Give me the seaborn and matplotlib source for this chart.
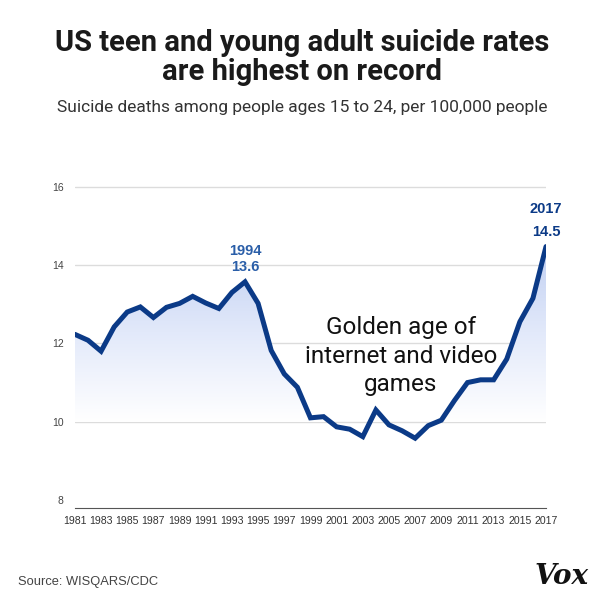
import numpy as np
import pandas as pd
import matplotlib
matplotlib.use("Agg")
import matplotlib.pyplot as plt
import seaborn as sns
from matplotlib.colors import LinearSegmentedColormap

# Data
years = list(range(1981, 2018))
rates = [12.23, 12.08, 11.80, 12.42, 12.80, 12.93, 12.66, 12.92, 13.02, 13.20,
         13.03, 12.89, 13.30, 13.57, 13.02, 11.82, 11.22, 10.88, 10.10, 10.13,
         9.87, 9.81, 9.62, 10.30, 9.92, 9.77, 9.58, 9.90, 10.04, 10.54,
         11.00, 11.07, 11.07, 11.60, 12.55, 13.15, 14.47]
y_ticks = [8, 10, 12, 14, 16]
x_labels = [str(y) if y % 2 == 1 else "" for y in years]

df = pd.DataFrame({"year": years, "rate": rates})

sns.set_style("white")
plt.rcParams['font.family'] = ['Liberation Sans', 'DejaVu Sans']

navy = "#0b3a87"

fig = plt.figure(figsize=(6.04, 6.04), dpi=100)
ax = fig.add_axes([0.124, 0.159, 0.780, 0.545])

ax.set_xlim(1981, 2017)
ax.set_ylim(7.8, 16.2)

# gridlines
for t in y_ticks[1:]:
    ax.axhline(t, color="#dcdcdc", lw=1, zorder=0)

# gradient fill under the line
cmap = LinearSegmentedColormap.from_list("fade", ["#ffffff", "#e2e9fa", "#bfcef1"])
grad = np.linspace(0, 1, 256).reshape(-1, 1)
im = ax.imshow(grad, cmap=cmap, aspect="auto", origin="lower",
               extent=[1981, 2017, 10.0, 14.6], zorder=1)
poly = ax.fill_between(df["year"], df["rate"], 7.8, color="none")
clip = poly.get_paths()[0]
im.set_clip_path(clip, transform=ax.transData)

sns.lineplot(data=df, x="year", y="rate", ax=ax, color=navy, lw=3.6,
             zorder=3, solid_joinstyle="miter")

# axes styling
for s in ["top", "right", "left"]:
    ax.spines[s].set_visible(False)
ax.spines["bottom"].set_color("#555555")
ax.spines["bottom"].set_linewidth(0.8)
ax.set_xticks(years)
ax.set_xticklabels(x_labels, fontsize=7.6, color="#333333")
ax.tick_params(axis="x", direction="out", length=3, width=0.7, color="#555555", pad=3)
ax.set_yticks(y_ticks)
ax.set_yticklabels([str(t) for t in y_ticks], fontsize=7.5, color="#444444")
ax.tick_params(axis="y", length=0, pad=8)
ax.set_xlabel("")
ax.set_ylabel("")

# annotations
ax.text(1994, 14.35, "1994", ha="center", va="center", fontsize=10.5,
        fontweight="bold", color="#2a5ea8")
ax.text(1994, 13.95, "13.6", ha="center", va="center", fontsize=10.5,
        fontweight="bold", color="#2a5ea8")
ax.text(2017, 15.42, "2017", ha="center", va="center", fontsize=10.5,
        fontweight="bold", color=navy)
ax.text(2017, 14.85, "14.5", ha="center", va="center", fontsize=10.5,
        fontweight="bold", color=navy)
ax.text(2005.9, 11.67, "Golden age of\ninternet and video\ngames", ha="center",
        va="center", fontsize=17.5, color="#111111", family=["Roboto", "DejaVu Sans"],
        linespacing=1.3, zorder=5)

# titles and footer
fig.text(0.5, 0.905, "US teen and young adult suicide rates\nare highest on record",
         ha="center", va="center", fontsize=21, fontweight="bold",
         color="#1a1a1a", linespacing=1.05, family=["Roboto", "DejaVu Sans"])
fig.text(0.5, 0.822, "Suicide deaths among people ages 15 to 24, per 100,000 people",
         ha="center", va="center", fontsize=12.5, color="#333333",
         family=["Roboto", "DejaVu Sans"])
fig.text(0.03, 0.036, "Source: WISQARS/CDC", ha="left", va="center",
         fontsize=9.3, color="#444444")
fig.text(0.975, 0.046, "Vox", ha="right", va="center", fontsize=20,
         fontweight="bold", fontstyle="italic", color="#111111",
         family=["DejaVu Serif"])

fig.savefig("out.png", dpi=100, facecolor="white")
